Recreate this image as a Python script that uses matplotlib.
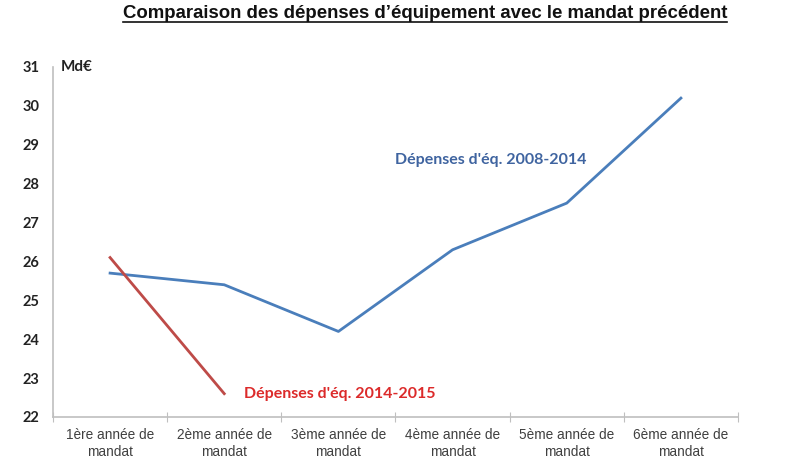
import matplotlib
matplotlib.use("Agg")
import matplotlib.pyplot as plt
from matplotlib.lines import Line2D

categories = ["1ère année de\nmandat", "2ème année de\nmandat", "3ème année de\nmandat",
              "4ème année de\nmandat", "5ème année de\nmandat", "6ème année de\nmandat"]
depenses_2008_2014 = [25.7, 25.4, 24.2, 26.3, 27.5, 30.2]
depenses_2014_2015 = [26.1, 22.6]
yticks = [22, 23, 24, 25, 26, 27, 28, 29, 30, 31]
title = "Comparaison des dépenses d’équipement avec le mandat précédent"

narrow = ["Liberation Sans Narrow", "Liberation Sans", "DejaVu Sans"]
cal = ["Lato", "DejaVu Sans"]

fig = plt.figure(figsize=(8, 4.59), dpi=100)
ax = fig.add_axes([53/800, 1-417/459, (738-53)/800, (417-67)/459])

x = list(range(len(categories)))
ax.plot(x, depenses_2008_2014, color="#4A7EBB", lw=2)
ax.plot(x[:len(depenses_2014_2015)], depenses_2014_2015, color="#BE4B48", lw=2)

ax.set_xlim(-0.5, len(categories) - 0.5)
ax.set_ylim(22, 31)
ax.set_yticks(yticks)
ax.set_yticklabels([str(v) for v in yticks], family=cal, fontweight="bold", fontsize=10.5, color="#222222")
ax.tick_params(axis="y", length=0, pad=10)

bounds = [i - 0.5 for i in range(len(categories) + 1)]
ax.set_xticks(bounds)
ax.set_xticklabels([""] * len(bounds))
ax.tick_params(axis="x", which="major", direction="inout", length=7, color="#BFBFBF")
ax.set_xticks(x, minor=True)
ax.set_xticklabels(categories, minor=True, family=narrow, fontsize=9.8, color="#404040", linespacing=1.3)
ax.tick_params(axis="x", which="minor", length=0, pad=8)

for s in ["top", "right"]:
    ax.spines[s].set_visible(False)
for s in ["left", "bottom"]:
    ax.spines[s].set_color("#BFBFBF")
    ax.spines[s].set_linewidth(1.2)

ax.text(0.012, 31, "Md€", family=cal, fontweight="bold", fontsize=11, color="#222222",
        ha="left", va="center", transform=ax.get_yaxis_transform())
ax.text(2.5, 28.6, "Dépenses d'éq. 2008-2014", family=cal, fontweight="bold", fontsize=11.5,
        color="#3F64A0", ha="left", va="center")
ax.text(1.17, 22.6, "Dépenses d'éq. 2014-2015", family=cal, fontweight="bold", fontsize=11.5,
        color="#DC2A2A", ha="left", va="center")

t = fig.text(425/800, 1-14/459, title, family=narrow, fontweight="bold", fontsize=13.4,
             color="#111111", ha="center", va="center")
fig.canvas.draw()
bb = t.get_window_extent()
yline = bb.y0 + 1
fig.add_artist(Line2D([bb.x0/800, bb.x1/800], [yline/459, yline/459], color="#111111", lw=1.2,
                      transform=fig.transFigure))

fig.savefig("out.png", dpi=100)
